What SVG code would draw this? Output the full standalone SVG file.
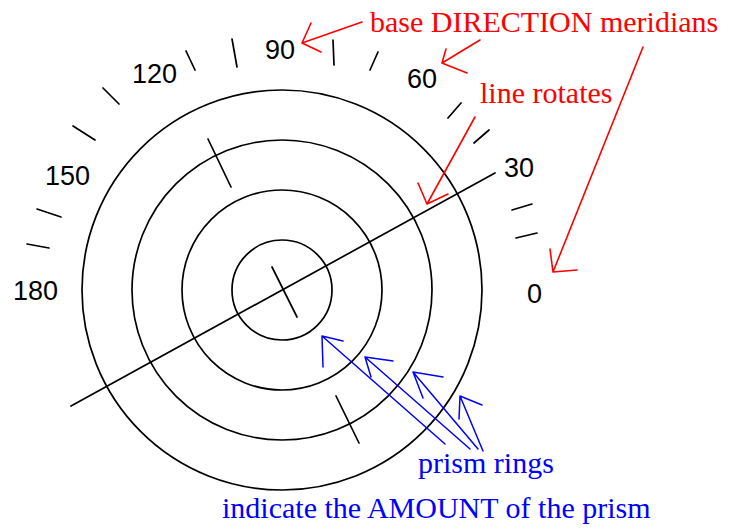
<svg xmlns="http://www.w3.org/2000/svg" width="739" height="529" viewBox="0 0 739 529">
  <style>
    .ring { fill: none; stroke: #000; stroke-width: 1.7; }
    .blk { fill: none; stroke: #000; stroke-width: 1.7; stroke-linecap: round; }
    .num { font-family: "Liberation Sans", Arial, sans-serif; font-size: 27px; fill: #000; }
    .red { font-family: "Liberation Serif", "Times New Roman", serif; font-size: 30px; fill: #ff0000; }
    .blue { font-family: "Liberation Serif", "Times New Roman", serif; font-size: 30px; fill: #0000ff; }
    .ra { fill: none; stroke: #ff0000; stroke-width: 1.6; stroke-linecap: round; stroke-linejoin: round; }
    .ba { fill: none; stroke: #0000ff; stroke-width: 1.5; stroke-linecap: round; stroke-linejoin: round; }
  </style>
  <rect width="739" height="529" fill="#fff"/>

  <g id="rings">
    <circle class="ring" cx="282" cy="290" r="50"/>
    <circle class="ring" cx="282" cy="290" r="100"/>
    <circle class="ring" cx="282" cy="290" r="150"/>
    <circle class="ring" cx="282" cy="290" r="200"/>
  </g>

  <g id="axis-line">
    <line class="blk" x1="71" y1="406" x2="495" y2="173"/>
    <line class="blk" x1="272" y1="267" x2="297" y2="317"/>
    <line class="blk" x1="208" y1="139" x2="231" y2="187"/>
    <line class="blk" x1="336" y1="396" x2="359" y2="443"/>
  </g>

  <g id="scale-ticks">
    <line class="blk" x1="27" y1="244" x2="49" y2="248"/>
    <line class="blk" x1="37" y1="209" x2="61" y2="217"/>
    <line class="blk" x1="73" y1="126" x2="95" y2="140"/>
    <line class="blk" x1="103" y1="88" x2="119" y2="104"/>
    <line class="blk" x1="186" y1="51" x2="195" y2="70"/>
    <line class="blk" x1="232" y1="39" x2="237" y2="67"/>
    <line class="blk" x1="333" y1="40" x2="334" y2="65"/>
    <line class="blk" x1="370" y1="70" x2="378" y2="52"/>
    <line class="blk" x1="448" y1="118" x2="461" y2="103"/>
    <line class="blk" x1="474" y1="143" x2="489" y2="130"/>
    <line class="blk" x1="512" y1="210" x2="532" y2="204"/>
    <line class="blk" x1="516" y1="238" x2="537" y2="233"/>
  </g>

  <g id="scale-labels">
    <text id="label-0" class="num" x="527" y="303">0</text>
    <text id="label-30" class="num" x="504" y="177">30</text>
    <text id="label-60" class="num" x="407" y="88">60</text>
    <text id="label-90" class="num" x="265" y="59">90</text>
    <text id="label-120" class="num" x="132" y="83">120</text>
    <text id="label-150" class="num" x="45" y="185">150</text>
    <text id="label-180" class="num" x="13" y="300">180</text>
  </g>

  <g id="note-base-direction">
    <text class="red" x="370" y="32">base DIRECTION meridians</text>
  </g>
  <g id="note-line-rotates">
    <text class="red" x="480" y="103">line rotates</text>
  </g>
  <g id="note-prism-rings">
    <text class="blue" x="418" y="473">prism rings</text>
  </g>
  <g id="note-amount">
    <text class="blue" x="222" y="518">indicate the AMOUNT of the prism</text>
  </g>

  <g id="connectors">
    <!-- red: base DIRECTION meridians -> 90 -->
    <path class="ra" d="M362,22 L302,43 M311,23 L302,43 L321,52"/>
    <!-- red: base DIRECTION meridians -> 60 -->
    <path class="ra" d="M480,40 L442,63 M446,49 L442,63 L467,73"/>
    <!-- red: line rotates -> line -->
    <path class="ra" d="M475,117 L427,204 M418,183 L427,204 L448,194"/>
    <!-- red: meridians -> 0 -->
    <path class="ra" d="M643,47 L553,272 M550,249 L553,272 L577,270"/>
    <!-- blue: prism rings -> rings -->
    <path class="ba" d="M445,444 L322,336 M323,367 L322,336 L343,341"/>
    <path class="ba" d="M470,449 L365,357 M371,377 L365,357 L393,361"/>
    <path class="ba" d="M478,449 L413,372 M423,398 L413,372 L443,377"/>
    <path class="ba" d="M483,451 L460,396 M459,419 L460,396 L482,405"/>
  </g>
</svg>
